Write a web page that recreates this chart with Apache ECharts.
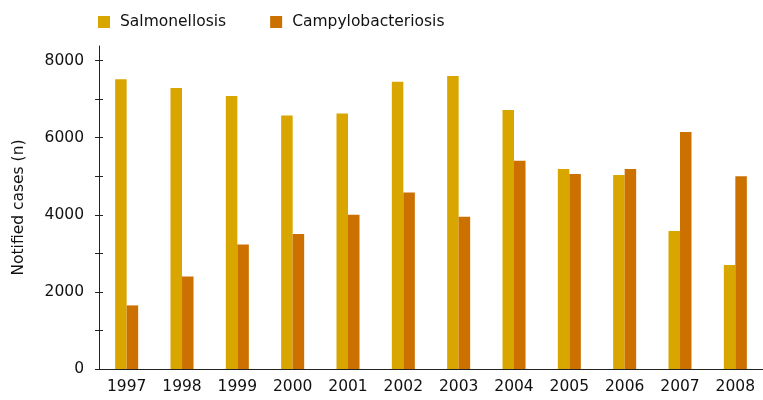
<!DOCTYPE html>
<html>
<head>
<meta charset="utf-8">
<script src="https://cdn.jsdelivr.net/npm/echarts@6/dist/echarts.min.js"></script>
<style>
  html, body { margin: 0; padding: 0; background: #fff; }
  #chart { width: 763px; height: 400px; }
</style>
</head>
<body>
<div id="chart"></div>
<script>
// values
var years = ['1997', '1998', '1999', '2000', '2001', '2002', '2003', '2004', '2005', '2006', '2007', '2008']
var salmonellosis = [7520, 7290, 7080, 6580, 6630, 7450, 7600, 6720, 5190, 5030, 3580, 2700]
var campylobacteriosis = [1650, 2400, 3230, 3500, 4000, 4580, 3950, 5400, 5060, 5190, 6150, 5000]
var yLabelValues = [0, 2000, 4000, 6000, 8000]
var yTickValues = [0, 1000, 2000, 3000, 4000, 5000, 6000, 7000, 8000]

var font = 'DejaVu Sans'
var fontSize = 15.5
var axisColor = '#222'

let myChart = echarts.init(document.getElementById('chart'))
var option = {
  animation: false,
  textStyle: { fontFamily: font },
  legend: {
    left: 93,
    top: 9,
    itemWidth: 12,
    itemHeight: 12,
    itemGap: 44,
    icon: 'rect',
    textStyle: { fontFamily: font, fontSize: fontSize, color: '#111', padding: [0, 0, 0, 5] },
    data: ['Salmonellosis', 'Campylobacteriosis']
  },
  grid: {
    left: 99,
    right: 0,
    top: 46,
    bottom: 31,
    containLabel: false
  },
  xAxis: [
    {
      type: 'category',
      data: years,
      boundaryGap: true,
      axisLine: { lineStyle: { color: axisColor, width: 1 } },
      axisTick: { length: 8, lineStyle: { color: '#444' } },
      axisLabel: { color: '#111', fontFamily: font, fontSize: fontSize, margin: 10 }
    },
    {
      type: 'category',
      data: years,
      position: 'bottom',
      boundaryGap: true,
      axisLine: { show: false },
      axisTick: { inside: true, length: 8, lineStyle: { color: '#444' } },
      axisLabel: { show: false }
    }
  ],
  yAxis: [
    {
      type: 'value',
      min: 0,
      max: 8380,
      position: 'left',
      name: 'Notified cases (n)',
      nameLocation: 'middle',
      nameGap: 72,
      nameTextStyle: { fontFamily: font, fontSize: fontSize, color: '#111' },
      axisLine: { show: true, lineStyle: { color: axisColor, width: 1 } },
      axisTick: { show: true, length: 4, customValues: yTickValues, lineStyle: { color: axisColor } },
      axisLabel: {
        customValues: yLabelValues,
        color: '#111',
        fontFamily: font,
        fontSize: fontSize,
        margin: 15,
        formatter: function (value) {
          return String(value)
        }
      },
      splitLine: { show: false }
    },
    {
      type: 'value',
      min: 0,
      max: 8380,
      position: 'left',
      axisLine: { show: false },
      axisTick: { show: true, inside: true, length: 4, customValues: yTickValues, lineStyle: { color: axisColor } },
      axisLabel: { show: false },
      splitLine: { show: false }
    }
  ],
  series: [
    {
      name: 'Salmonellosis',
      type: 'bar',
      data: salmonellosis,
      barWidth: 11.5,
      barGap: '0%',
      itemStyle: { color: '#D9A600' }
    },
    {
      name: 'Campylobacteriosis',
      type: 'bar',
      data: campylobacteriosis,
      barWidth: 11.5,
      barGap: '0%',
      itemStyle: { color: '#CC7000' }
    }
  ]
}
myChart.setOption(option, true)
</script>
</body>
</html>
